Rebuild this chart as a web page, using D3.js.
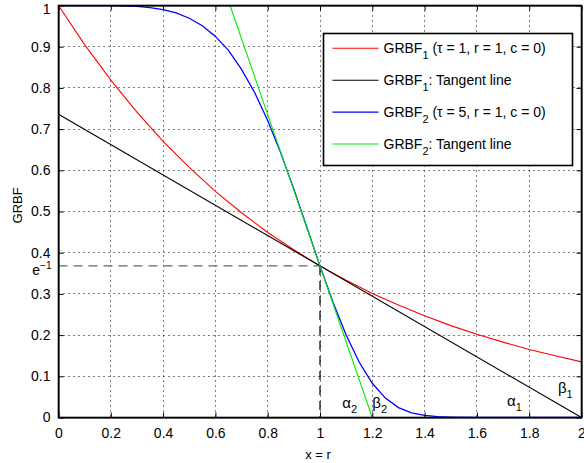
<!DOCTYPE html>
<html>
<head>
<meta charset="utf-8">
<script src="https://cdn.jsdelivr.net/npm/d3@7"></script>
<style>
  html, body { margin: 0; padding: 0; background: #fff; }
  svg text { font-family: "Liberation Sans", Arial, Helvetica, sans-serif; }
</style>
</head>
<body>
<div id="chart"></div>
<script>
(function () {
    'use strict';

    // Values
    const grbf1X = [0, 0.1, 0.2, 0.3, 0.4, 0.5, 0.6, 0.7, 0.8, 0.9, 1.0, 1.1, 1.2, 1.3, 1.4, 1.5, 1.6, 1.7, 1.8, 1.9, 2.0];
    const grbf1Y = [1, 0.905, 0.819, 0.741, 0.670, 0.607, 0.549, 0.497, 0.449, 0.407, 0.368, 0.333, 0.301, 0.273, 0.247, 0.223, 0.202, 0.183, 0.165, 0.150, 0.135];

    const grbf2X = [0, 0.2, 0.3, 0.35, 0.4, 0.45, 0.5, 0.55, 0.6, 0.65, 0.7, 0.75, 0.8, 0.85, 0.9, 0.95, 1.0, 1.05, 1.1, 1.15, 1.2, 1.25, 1.3, 1.35, 1.4, 1.45, 1.5, 1.6, 2.0];
    const grbf2Y = [1, 1, 0.998, 0.995, 0.990, 0.982, 0.969, 0.951, 0.925, 0.891, 0.845, 0.789, 0.721, 0.642, 0.554, 0.461, 0.368, 0.279, 0.200, 0.134, 0.083, 0.047, 0.024, 0.011, 0.005, 0.002, 0.001, 0, 0];

    const tangent1X = [0, 2];
    const tangent1Y = [0.736, 0];
    const tangent2X = [0.656, 1.2];
    const tangent2Y = [1, 0];

    const touchX = 1;
    const touchY = 0.368; // e^-1

    const xTicks = [0, 0.2, 0.4, 0.6, 0.8, 1, 1.2, 1.4, 1.6, 1.8, 2];
    const yTicks = [0, 0.1, 0.2, 0.3, 0.4, 0.5, 0.6, 0.7, 0.8, 0.9, 1];

    const seriesColors = ['#ff0000', '#000000', '#0000ff', '#00ee00'];

    const W = 584, H = 463;
    const margin = {top: 5.5, right: 2.5, bottom: 45.5, left: 58.5};
    const cW = W - margin.left - margin.right;
    const cH = H - margin.top - margin.bottom;

    const svg = d3.select('#chart').append('svg').attr('width', W).attr('height', H);
    const g = svg.append('g').attr('transform', `translate(${margin.left},${margin.top})`);

    const x = d3.scaleLinear().domain([0, 2]).range([0, cW]);
    const y = d3.scaleLinear().domain([0, 1]).range([cH, 0]);

    // Dotted grid (snapped to whole pixels so the dots stay crisp)
    g.append('g').selectAll('line').data(xTicks.slice(1, -1)).join('line')
        .attr('x1', d => Math.round(x(d))).attr('x2', d => Math.round(x(d))).attr('y1', 0).attr('y2', cH)
        .attr('stroke', '#000').attr('stroke-width', 1).attr('stroke-dasharray', '1 4');
    g.append('g').selectAll('line').data(yTicks.slice(1, -1)).join('line')
        .attr('x1', 0).attr('x2', cW).attr('y1', d => Math.round(y(d))).attr('y2', d => Math.round(y(d)))
        .attr('stroke', '#000').attr('stroke-width', 1).attr('stroke-dasharray', '1 4');

    // e^-1 reference dashes
    g.append('line')
        .attr('x1', x(0)).attr('x2', x(touchX)).attr('y1', y(touchY)).attr('y2', y(touchY))
        .attr('stroke', '#666').attr('stroke-width', 1.3).attr('stroke-dasharray', '9 6');
    g.append('line')
        .attr('x1', x(touchX)).attr('x2', x(touchX)).attr('y1', y(touchY)).attr('y2', y(0))
        .attr('stroke', '#000').attr('stroke-width', 1.2).attr('stroke-dasharray', '9 6');

    // Curves
    const line = d3.line().x(d => x(d[0])).y(d => y(d[1]));
    const series = [
        d3.zip(grbf1X, grbf1Y),
        d3.zip(tangent1X, tangent1Y),
        d3.zip(grbf2X, grbf2Y),
        d3.zip(tangent2X, tangent2Y)
    ];
    svg.append('clipPath').attr('id', 'plot-clip')
        .append('rect').attr('x', 0).attr('y', 0).attr('width', cW).attr('height', cH);
    series.forEach((pts, i) => {
        g.append('path').datum(pts)
            .attr('d', line)
            .attr('fill', 'none')
            .attr('stroke', seriesColors[i])
            .attr('stroke-width', i === 2 ? 1.3 : 1.1)
            .attr('clip-path', 'url(#plot-clip)');
    });

    // Axes (MATLAB style: ticks inside, box on all sides)
    const fs = '14px';
    const xAxis = g.append('g').attr('transform', `translate(0,${cH})`)
        .call(d3.axisBottom(x).tickValues(xTicks).tickSizeInner(-5).tickSizeOuter(0).tickPadding(11)
            .tickFormat(d3.format('')));
    const yAxis = g.append('g')
        .call(d3.axisLeft(y).tickValues(yTicks).tickSizeInner(-5).tickSizeOuter(0).tickPadding(8)
            .tickFormat(d3.format('')));
    g.append('g').call(d3.axisTop(x).tickValues(xTicks).tickSizeInner(-5).tickSizeOuter(0).tickFormat(''));
    g.append('g').attr('transform', `translate(${cW},0)`)
        .call(d3.axisRight(y).tickValues(yTicks).tickSizeInner(-5).tickSizeOuter(0).tickFormat(''));
    [xAxis, yAxis].forEach(a => a.selectAll('text')
        .attr('font-size', fs).attr('fill', '#000').style('font-family', '"Liberation Sans", Arial, sans-serif'));
    // top label sits a little lower so it is not cut by the page edge
    yAxis.selectAll('.tick text').filter(d => d === 1).attr('dy', '0.6em');
    g.selectAll('.domain').attr('stroke', '#000').attr('stroke-width', 1);
    g.selectAll('.tick line').attr('stroke', '#000');
    g.append('rect').attr('width', cW).attr('height', cH)
        .attr('fill', 'none').attr('stroke', '#000').attr('stroke-width', 1.6);

    // e^-1 tick label
    const eLab = g.append('text')
        .attr('x', -7).attr('y', y(touchY) + 9)
        .attr('text-anchor', 'end').attr('font-size', fs).attr('fill', '#000');
    eLab.append('tspan').text('e');
    eLab.append('tspan').attr('dy', -6).attr('font-size', '10px').text('−1');

    // Axis titles
    g.append('text')
        .attr('x', x(1) - 2).attr('y', cH + 41)
        .attr('text-anchor', 'middle').attr('font-size', '13px').text('x = r');
    g.append('text')
        .attr('transform', `translate(${-37},${y(0.515)}) rotate(-90)`)
        .attr('text-anchor', 'middle').attr('font-size', '13px').text('GRBF');

    // Greek annotations
    const greek = [
        {t: 'α', s: '2', x: 1.085, y: 0.023},
        {t: 'β', s: '2', x: 1.2, y: 0.023},
        {t: 'α', s: '1', x: 1.715, y: 0.027},
        {t: 'β', s: '1', x: 1.91, y: 0.060}
    ];
    greek.forEach(d => {
        const t = g.append('text').attr('x', x(d.x)).attr('y', y(d.y))
            .attr('font-size', '15px').attr('fill', '#000');
        t.append('tspan').text(d.t);
        t.append('tspan').attr('dy', 5).attr('font-size', '11px').text(d.s);
    });

    // Legend
    const lx = 323.5 - margin.left, ly = 33.5 - margin.top;
    const legend = g.append('g').attr('transform', `translate(${lx},${ly})`);
    legend.append('rect').attr('width', 249).attr('height', 132)
        .attr('fill', '#fff').attr('stroke', '#000').attr('stroke-width', 1.6);
    const legendLabels = [
        {main: 'GRBF', sub: '1', rest: ' (τ = 1, r = 1, c = 0)'},
        {main: 'GRBF', sub: '1', rest: ': Tangent line'},
        {main: 'GRBF', sub: '2', rest: ' (τ = 5, r = 1, c = 0)'},
        {main: 'GRBF', sub: '2', rest: ': Tangent line'}
    ];
    legendLabels.forEach((d, i) => {
        const ry = 14.8 + i * 31.9;
        legend.append('line')
            .attr('x1', 9).attr('x2', 55).attr('y1', ry).attr('y2', ry)
            .attr('stroke', seriesColors[i]).attr('stroke-width', 1.1);
        const t = legend.append('text').attr('x', 60).attr('y', ry + 5)
            .attr('font-size', fs).attr('fill', '#000');
        t.append('tspan').text(d.main);
        t.append('tspan').attr('dy', 6).attr('font-size', '11px').text(d.sub);
        t.append('tspan').attr('dy', -6).text(d.rest);
    });
})();
</script>
</body>
</html>
